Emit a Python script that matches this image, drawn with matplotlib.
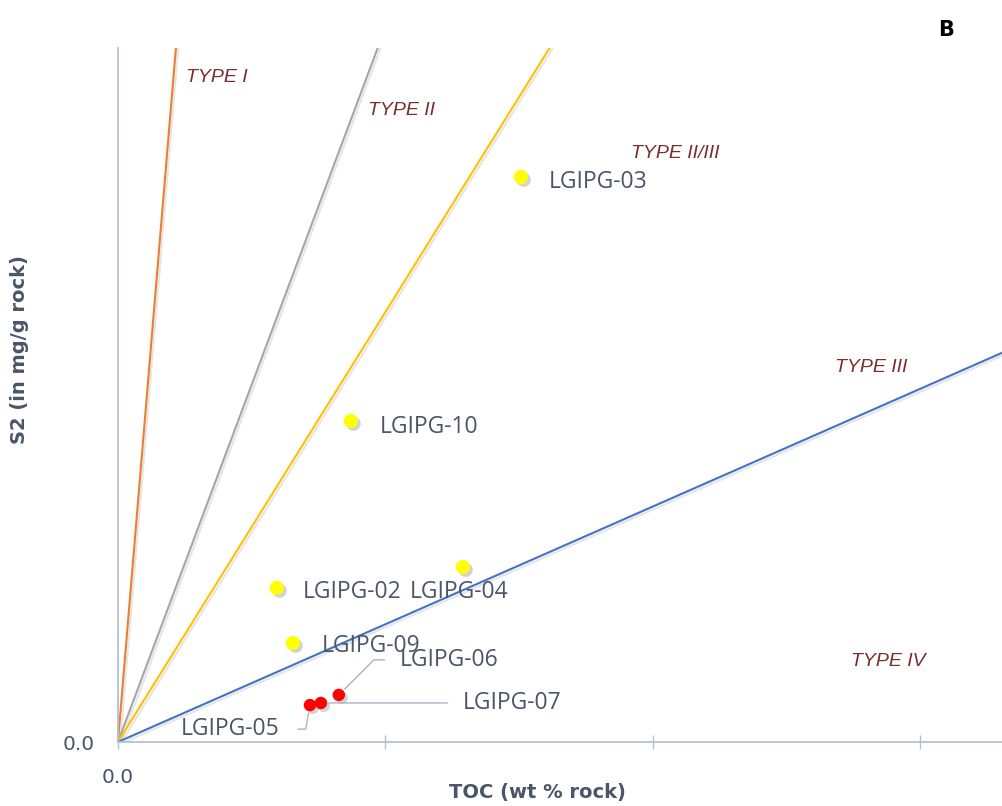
import numpy as np
import matplotlib
matplotlib.use("Agg")
import matplotlib.pyplot as plt
import matplotlib.patheffects as pe

# sample data (TOC in axis units, S2 in axis units)
samples = ["LGIPG-03", "LGIPG-10", "LGIPG-04", "LGIPG-02", "LGIPG-09",
           "LGIPG-06", "LGIPG-07", "LGIPG-05"]
toc = [1.507, 0.871, 1.290, 0.594, 0.654, 0.826, 0.759, 0.718]
s2 = [2.112, 1.200, 0.654, 0.576, 0.370, 0.176, 0.146, 0.138]
groups = ["y", "y", "y", "y", "y", "r", "r", "r"]

# kerogen type boundary lines (S2 / TOC ratio)
type_names = ["TYPE I", "TYPE II", "TYPE II/III", "TYPE III"]
type_slopes = [11.97, 2.67, 1.607, 0.44]
type_colors = ["#ED7D31", "#A5A5A5", "#FFC000", "#4472C4"]

# label placement for kerogen types (data coords)
type_label_pos = {
    "TYPE I": (0.255, 2.485),
    "TYPE II": (0.935, 2.36),
    "TYPE II/III": (1.92, 2.2),
    "TYPE III": (2.683, 1.40),
    "TYPE IV": (2.743, 0.30),
}

x_max = 3.31
y_max = 2.594

fig = plt.figure(figsize=(10.03, 8.06), dpi=100)
ax = fig.add_axes([0.1176, 0.0794, 1 - 0.1176, 0.9404 - 0.0794])
ax.set_xlim(0, x_max)
ax.set_ylim(0, y_max)

txt_col = "#4A5568"
axis_col = "#B4C0D4"
type_col = "#7A2E2E"

xs = np.array([0, x_max])
for name, k, c in zip(type_names, type_slopes, type_colors):
    ax.plot(xs, k * xs, color=c, lw=1.5, zorder=2,
            path_effects=[pe.SimpleLineShadow(offset=(1.5, -1.5), shadow_color="grey", alpha=0.2),
                          pe.Normal()])

shadow = [pe.SimplePatchShadow(offset=(2, -2), shadow_rgbFace="grey", alpha=0.35), pe.Normal()]
col_map = {"y": "#FFFF00", "r": "#FF0000"}
size_map = {"y": 105, "r": 80}
for g in ["y", "r"]:
    xx = [t for t, gg in zip(toc, groups) if gg == g]
    yy = [s for s, gg in zip(s2, groups) if gg == g]
    ax.scatter(xx, yy, s=size_map[g], color=col_map[g], edgecolors="none",
               zorder=4, path_effects=shadow)

# label offsets in pixels
label_off = {
    "LGIPG-03": (28, -5, "left", None),
    "LGIPG-10": (29, -6, "left", None),
    "LGIPG-02": (26, -4, "left", None),
    "LGIPG-04": (-53, -25, "left", None),
    "LGIPG-09": (29, -3, "left", None),
    "LGIPG-06": (61, 35, "left", "angle,angleA=0,angleB=45"),
    "LGIPG-07": (142, 0, "left", "arc3"),
    "LGIPG-05": (-30, -24, "right", "angle,angleA=0,angleB=80"),
}
for name, x, y in zip(samples, toc, s2):
    dx, dy, ha, conn = label_off[name]
    kw = {}
    if conn is not None:
        relx = 0 if ha == "left" else 1
        kw["arrowprops"] = dict(arrowstyle="-", color="#A6B4C8", lw=1,
                                connectionstyle=conn, relpos=(relx, 0.5),
                                shrinkA=9 if ha == "left" else 11, shrinkB=6)
    ax.annotate(name, (x, y), xytext=(dx, dy), textcoords="offset pixels",
                ha=ha, va="center", fontsize=16.5, color=txt_col,
                family="Open Sans", zorder=5, **kw)

for name, (x, y) in type_label_pos.items():
    ax.text(x, y, name, fontsize=14, style="italic", color=type_col,
            family="Liberation Sans", ha="left", va="center", zorder=5)

for sp in ["top", "right"]:
    ax.spines[sp].set_visible(False)
for sp in ["left", "bottom"]:
    ax.spines[sp].set_color(axis_col)
    ax.spines[sp].set_linewidth(1.3)

ax.set_xticks([0, 1, 2, 3])
ax.set_xticklabels(["0.0", "", "", ""])
ax.set_yticks([0])
ax.set_yticklabels(["0.0"])
ax.tick_params(axis="x", direction="inout", length=10, width=1, color=axis_col,
               pad=14, labelsize=14.5, labelcolor=txt_col)
ax.tick_params(axis="y", length=0, pad=17, labelsize=14.5, labelcolor=txt_col)

ax.set_xlabel("TOC (wt % rock)", fontsize=14, fontweight="bold", color=txt_col,
              va="center")
ax.xaxis.set_label_coords((537 - 118) / 885, -(792 - 742) / 694)
ax.set_ylabel("S2 (in mg/g rock)", fontsize=14, fontweight="bold", color=txt_col,
              va="center")
ax.yaxis.set_label_coords(-(118 - 20) / 885, (742 - 350) / 694)

fig.text(946 / 1003, 1 - 30 / 806, "B", fontsize=15, fontweight="bold",
         color="black", ha="center", va="center")

fig.savefig("out.png", dpi=100)
